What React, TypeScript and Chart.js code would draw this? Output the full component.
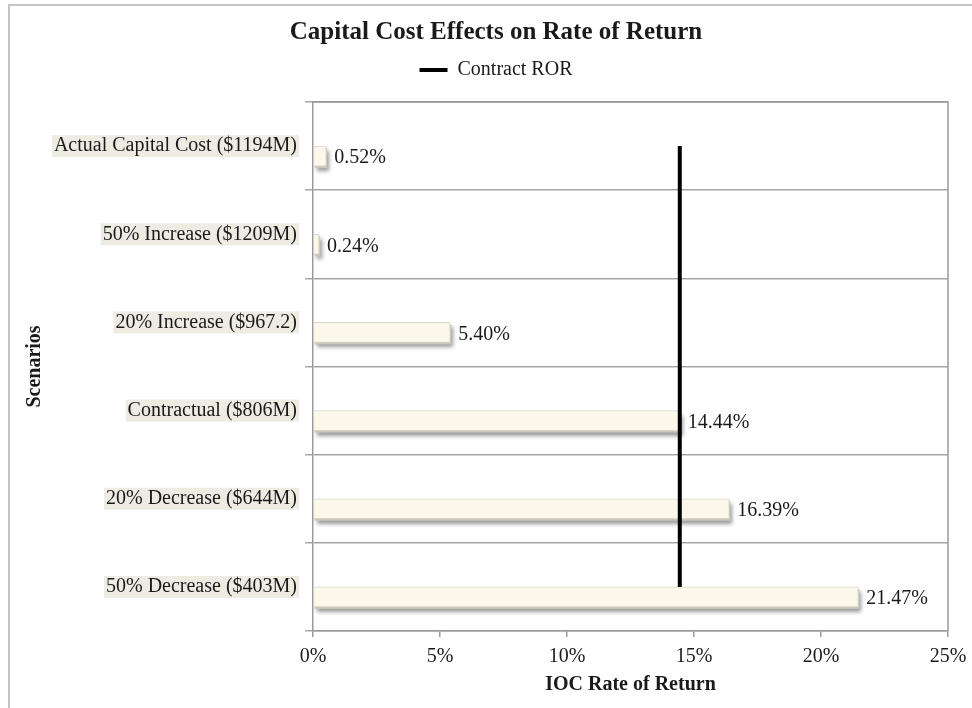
import React, { useEffect, useRef } from "react";
import { Chart, registerables } from "chart.js";

Chart.register(...registerables);

const categories = [
  "Actual Capital Cost ($1194M)",
  "50% Increase ($1209M)",
  "20% Increase ($967.2)",
  "Contractual ($806M)",
  "20% Decrease ($644M)",
  "50% Decrease ($403M)",
];
const rateOfReturn = [0.52, 0.24, 5.4, 14.44, 16.39, 21.47];
const contractROR = [14.44, 14.44, 14.44, 14.44, 14.44, 14.44];
const placeholderSlot = [0, 0, 0, 0, 0, 0];
const xTickValues = [0, 5, 10, 15, 20, 25];

const FONT = "'Liberation Serif', 'Times New Roman', serif";
const TEXT = "#1a1a1a";

const framePlugin = {
  id: "frame",
  beforeDraw(chart: any) {
    const { ctx, width, height } = chart;
    ctx.save();
    ctx.fillStyle = "#ffffff";
    ctx.fillRect(0, 0, width, height);
    ctx.strokeStyle = "#c4c4c4";
    ctx.lineWidth = 2;
    ctx.beginPath();
    ctx.moveTo(9, height);
    ctx.lineTo(9, 5);
    ctx.lineTo(width, 5);
    ctx.stroke();
    ctx.restore();
  },
  beforeDatasetsDraw(chart: any) {
    const { ctx, chartArea } = chart;
    ctx.save();
    ctx.strokeStyle = "#9a9a9a";
    ctx.lineWidth = 1.5;
    ctx.beginPath();
    ctx.moveTo(chartArea.left, chartArea.top);
    ctx.lineTo(chartArea.right, chartArea.top);
    ctx.lineTo(chartArea.right, chartArea.bottom);
    ctx.stroke();
    ctx.restore();
  },
};

const shadowPlugin = {
  id: "barShadow",
  beforeDatasetDraw(chart: any, args: any) {
    if (args.index !== 2) return;
    const ctx = chart.ctx;
    const meta = chart.getDatasetMeta(2);
    ctx.save();
    meta.data.forEach((el: any) => {
      const { x, y, base, height } = el.getProps(["x", "y", "base", "height"], true);
      const left = Math.min(x, base);
      const w = Math.abs(x - base);
      ctx.save();
      ctx.shadowColor = "rgba(0,0,0,0.4)";
      ctx.shadowBlur = 4;
      ctx.shadowOffsetX = 2;
      ctx.shadowOffsetY = 3;
      ctx.fillStyle = "#c9c6bd";
      ctx.fillRect(left + 1, y - height / 2 + 2, w, height);
      ctx.restore();
    });
    ctx.restore();
  },
};

const valueLabelPlugin = {
  id: "valueLabels",
  afterDatasetsDraw(chart: any) {
    const meta = chart.getDatasetMeta(2);
    const ctx = chart.ctx;
    ctx.save();
    ctx.font = `20px ${FONT}`;
    ctx.fillStyle = TEXT;
    ctx.textAlign = "left";
    ctx.textBaseline = "middle";
    meta.data.forEach((el: any, i: number) => {
      ctx.fillText(rateOfReturn[i].toFixed(2) + "%", el.x + 8, el.y + 2);
    });
    ctx.restore();
  },
};

export default function App() {
  const canvasRef = useRef<HTMLCanvasElement | null>(null);

  useEffect(() => {
    if (!canvasRef.current) return;
    const chart = new Chart(canvasRef.current, {
      type: "bar",
      data: {
        labels: categories,
        datasets: [
          {
            type: "line",
            label: "Contract ROR",
            data: contractROR,
            indexAxis: "y",
            borderColor: "#000000",
            backgroundColor: "#000000",
            borderWidth: 4,
            pointRadius: 0,
            tension: 0,
            order: 0,
          } as any,
          {
            label: "slot",
            data: placeholderSlot,
            backgroundColor: "rgba(0,0,0,0)",
            borderWidth: 0,
            barThickness: 20,
            order: 1,
          },
          {
            label: "IOC Rate of Return",
            data: rateOfReturn,
            backgroundColor: "#FBF8EB",
            borderColor: "#DAD6C8",
            borderWidth: 1,
            barThickness: 20,
            order: 1,
          },
        ],
      },
      options: {
        indexAxis: "y",
        animation: false,
        responsive: true,
        maintainAspectRatio: false,
        layout: { padding: { left: 20, right: 0, top: 0, bottom: 0 } },
        plugins: {
          title: {
            display: true,
            text: "Capital Cost Effects on Rate of Return",
            color: TEXT,
            font: { family: FONT, size: 25, weight: "bold" },
            padding: { top: 18, bottom: 4 },
          },
          subtitle: {
            display: true,
            text: "",
            font: { family: FONT, size: 10 },
            padding: 0,
          },
          legend: {
            display: true,
            position: "top",
            weight: 1800,
            labels: {
              font: { family: FONT, size: 20 },
              color: TEXT,
              boxWidth: 28,
              boxHeight: 4,
              padding: 8,
              generateLabels: (c: any) =>
                Chart.defaults.plugins.legend.labels
                  .generateLabels(c)
                  .filter((l: any) => l.datasetIndex === 0)
                  .map((l: any) => ({ ...l, lineWidth: 0, fillStyle: "#000000" })),
            },
          } as any,
          tooltip: { enabled: false },
        },
        scales: {
          x: {
            min: xTickValues[0],
            max: xTickValues[xTickValues.length - 1],
            ticks: {
              stepSize: xTickValues[1] - xTickValues[0],
              color: TEXT,
              font: { family: FONT, size: 20 },
              padding: 8,
              callback: (v: any) => v + "%",
            },
            grid: {
              display: true,
              drawOnChartArea: false,
              drawTicks: true,
              tickLength: 6,
              color: "#9a9a9a",
              lineWidth: 1.5,
            },
            border: { display: true, color: "#9a9a9a", width: 1.5 },
            title: {
              display: true,
              text: "IOC Rate of Return",
              color: TEXT,
              font: { family: FONT, size: 20, weight: "bold" },
              padding: { top: 0, bottom: 11 },
            },
            afterFit: (s: any) => {
              s.height = 77;
              s.paddingRight = 24;
            },
          },
          y: {
            ticks: {
              color: TEXT,
              font: { family: FONT, size: 20, lineHeight: 1.0 },
              padding: 8,
              showLabelBackdrop: true,
              backdropColor: "#EDEBE2",
              backdropPadding: { x: 2, y: 1 },
            },
            grid: {
              display: true,
              offset: true,
              drawTicks: true,
              tickLength: 8,
              color: "#a6a6a6",
              lineWidth: 1.5,
            },
            border: { display: true, color: "#9a9a9a", width: 1.5 },
            title: {
              display: true,
              text: "Scenarios",
              color: TEXT,
              font: { family: FONT, size: 20, weight: "bold" },
              padding: { top: 3, bottom: 0 },
            },
            afterFit: (s: any) => {
              s.width = 293;
            },
          },
        },
      } as any,
      plugins: [framePlugin, shadowPlugin, valueLabelPlugin],
    });
    return () => chart.destroy();
  }, []);

  return (
    <div style={{ position: "absolute", left: 0, top: 0, width: 972, height: 708, background: "#fff" }}>
      <canvas ref={canvasRef} />
    </div>
  );
}
